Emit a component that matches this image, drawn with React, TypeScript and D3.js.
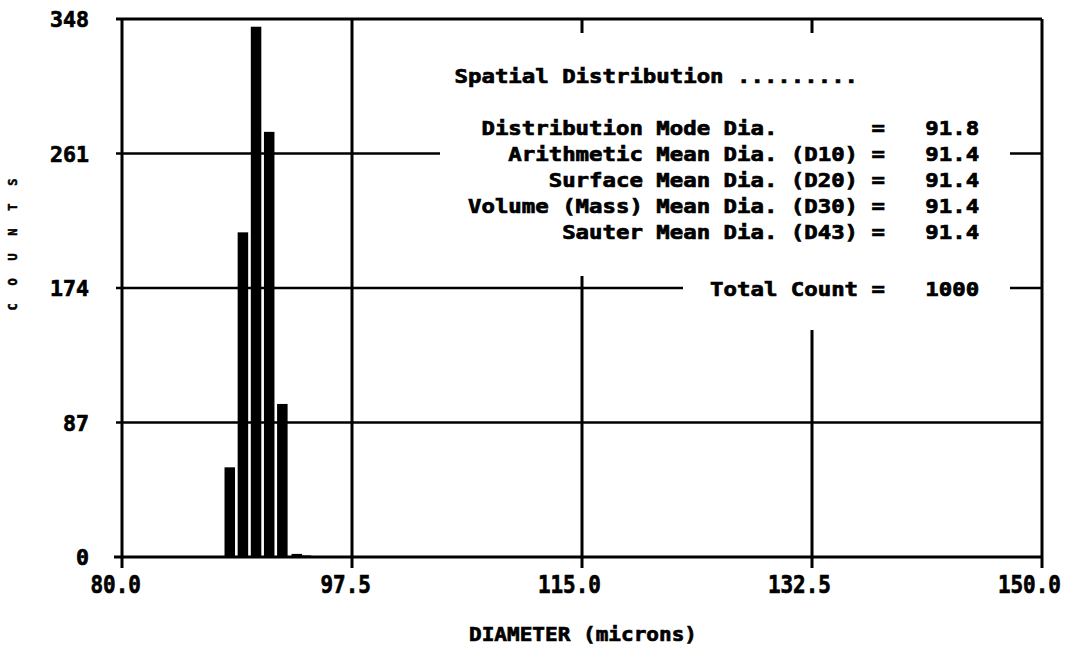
import React from "react";
import * as d3 from "d3";

// ---- data ----
const binCenters = [88.2, 89.2, 90.2, 91.2, 92.2, 93.3, 94.0];
const binCounts = [58, 210, 343, 275, 99, 2, 1];
const yTicks = [0, 87, 174, 261, 348];
const xTicks = [80.0, 97.5, 115.0, 132.5, 150.0];
const statLabels = [
  "Distribution Mode Dia.",
  "Arithmetic Mean Dia. (D10)",
  "Surface Mean Dia. (D20)",
  "Volume (Mass) Mean Dia. (D30)",
  "Sauter Mean Dia. (D43)",
];
const statValues = ["91.8", "91.4", "91.4", "91.4", "91.4"];
const panelTitle = "Spatial Distribution .........";
const totalLabel = "Total Count";
const totalValue = "1000";
const xTitle = "DIAMETER (microns)";
const yTitle = "COUNTS";

const W = 1065;
const H = 650;
const FONT = "'DejaVu Sans Mono', 'Liberation Mono', monospace";

type MTProps = {
  x: number;
  y: number;
  s: string;
  cell: number;
  size: number;
  weight?: number;
};

function MonoText({ x, y, s, cell, size, weight = 0.7 }: MTProps) {
  return (
    <text
      x={x}
      y={y}
      textLength={s.length * cell}
      lengthAdjust="spacingAndGlyphs"
      fill="#000"
      stroke="#000"
      strokeWidth={weight}
      style={{
        fontFamily: FONT,
        fontWeight: "bold",
        fontSize: size,
        whiteSpace: "pre",
      }}
    >
      {s}
    </text>
  );
}

export default function App() {
  const x = d3.scaleLinear().domain([80, 150]).range([122, 1042]);
  const y = d3.scaleLinear().domain([0, 348]).range([557, 19]);
  const binW = 0.8;

  const cw = 13.45; // char cell of panel text
  const col0 = 468;
  const colX = (c: number) => col0 + c * cw;
  const rowBase = [135, 161, 187, 213, 239];
  const tickCell = 12.6;

  const lines = statLabels.map((l, i) =>
    i === 0 ? (" " + l).padEnd(29) + " =" : l.padStart(29) + " ="
  );

  return (
    <svg
      width={W}
      height={H}
      style={{ position: "fixed", left: 0, top: 0, background: "#fff" }}
    >
      <rect x={0} y={0} width={W} height={H} fill="#fff" />
      {/* horizontal grid lines */}
      {yTicks.map((t) => (
        <line
          key={"h" + t}
          x1={t === 0 ? 114 : 116}
          x2={x(150)}
          y1={y(t)}
          y2={y(t)}
          stroke="#000"
          strokeWidth={t === 0 || t === 348 ? 3 : 2.5}
        />
      ))}
      {/* vertical grid lines */}
      {xTicks.map((t) => (
        <line
          key={"v" + t}
          x1={x(t)}
          x2={x(t)}
          y1={y(348)}
          y2={568}
          stroke="#000"
          strokeWidth={3}
        />
      ))}
      {/* masks behind text block */}
      <rect x={440} y={33} width={570} height={243} fill="#fff" />
      <rect x={683} y={276} width={327} height={54} fill="#fff" />

      {/* bars */}
      {binCenters.map((c, i) => (
        <rect
          key={"b" + i}
          x={x(c - binW / 2)}
          width={x(c + binW / 2) - x(c - binW / 2)}
          y={y(binCounts[i])}
          height={y(0) - y(binCounts[i])}
          fill="#000"
        />
      ))}

      {/* y tick labels */}
      {yTicks.map((t) => {
        const s = String(t);
        return (
          <MonoText
            key={"yl" + t}
            x={89 - s.length * 13}
            y={y(t) + 8}
            s={s}
            cell={13}
            size={22}
          />
        );
      })}
      {/* x tick labels: decimal point centred on the tick */}
      {xTicks.map((t) => {
        const s = t.toFixed(1);
        const dot = s.indexOf(".");
        const x0 = x(t) - (dot + 0.5) * tickCell;
        return (
          <MonoText
            key={"xl" + t}
            x={Math.min(x0, W - 4 - s.length * tickCell)}
            y={593}
            s={s}
            cell={tickCell}
            size={24}
          />
        );
      })}

      {/* axis titles */}
      <MonoText x={583 - 114} y={641} s={xTitle} cell={228 / 18} size={20} />
      <text
        transform="translate(17,244.5) rotate(-90)"
        textAnchor="middle"
        textLength={132}
        lengthAdjust="spacing"
        fill="#000"
        stroke="#000"
        strokeWidth={0.5}
        style={{ fontFamily: FONT, fontWeight: "bold", fontSize: 12 }}
      >
        {yTitle}
      </text>

      {/* stats panel */}
      <MonoText x={colX(-1)} y={83} s={panelTitle} cell={cw} size={19} />
      {lines.map((l, i) => (
        <g key={"s" + i}>
          <MonoText x={colX(0)} y={rowBase[i]} s={l} cell={cw} size={19} />
          <MonoText
            x={colX(34)}
            y={rowBase[i]}
            s={statValues[i]}
            cell={cw}
            size={19}
          />
        </g>
      ))}
      <MonoText
        x={colX(18)}
        y={296}
        s={totalLabel + " ="}
        cell={cw}
        size={19}
      />
      <MonoText x={colX(34)} y={296} s={totalValue} cell={cw} size={19} />
    </svg>
  );
}
